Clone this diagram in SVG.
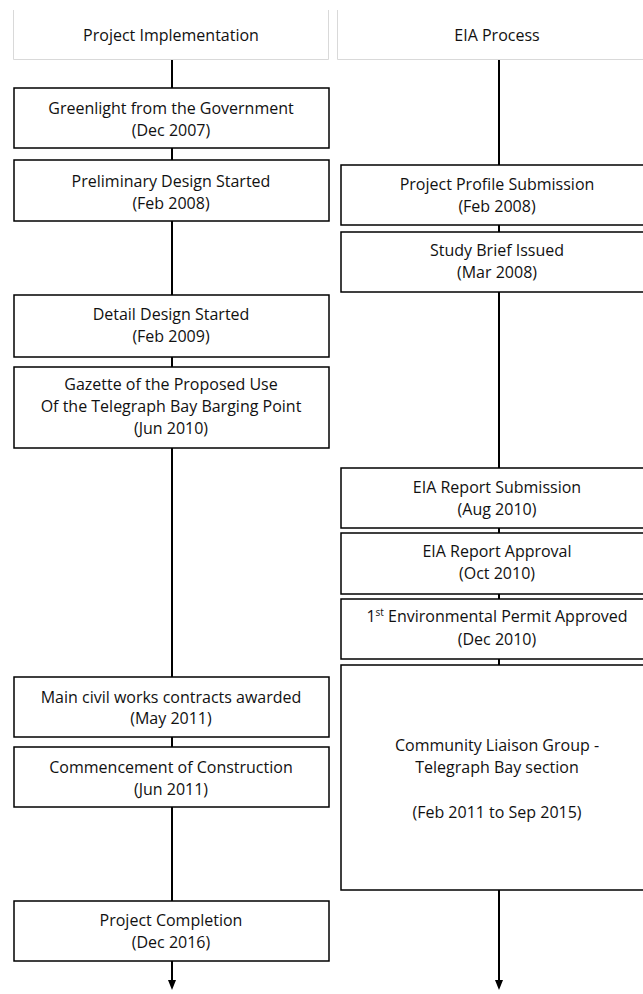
<svg xmlns="http://www.w3.org/2000/svg" width="643" height="994" viewBox="0 0 643 994">
<style>
.hdr{fill:#fff;stroke:#d9d9d9;stroke-width:1}
.box{fill:#fff;stroke:#000;stroke-width:1.5}
.t{font-family:"Open Sans","Liberation Sans",sans-serif;font-size:16px;fill:#111;text-anchor:middle}
.ln{stroke:#000;stroke-width:2;fill:none}
</style>
<defs>
<marker id="ah" markerWidth="10" markerHeight="10" refX="5" refY="5" orient="auto" markerUnits="userSpaceOnUse">
<path d="M0,1 L10,5 L0,9 z" fill="#000"/>
</marker>
</defs>
<rect width="643" height="994" fill="#fff"/>
<g id="connectors">
<line class="ln" x1="172" y1="59" x2="172" y2="985" marker-end="url(#ah)"/>
<line class="ln" x1="499" y1="59" x2="499" y2="985" marker-end="url(#ah)"/>
</g>
<g id="hdr-left">
<path class="hdr" d="M13.5,10 V59.5 H328.5 V10"/>
<text class="t" x="171" y="41">Project Implementation</text>
</g>
<g id="hdr-right">
<path class="hdr" d="M337.5,10 V59.5 H644"/>
<text class="t" x="497" y="41">EIA Process</text>
</g>
<g id="n-greenlight">
<rect class="box" x="14" y="88" width="315" height="60"/>
<text class="t" x="171" y="114">Greenlight from the Government</text>
<text class="t" x="171" y="136">(Dec 2007)</text>
</g>
<g id="n-prelim">
<rect class="box" x="14" y="160" width="315" height="61"/>
<text class="t" x="171" y="187">Preliminary Design Started</text>
<text class="t" x="171" y="209">(Feb 2008)</text>
</g>
<g id="n-detail">
<rect class="box" x="14" y="295" width="315" height="62"/>
<text class="t" x="171" y="320">Detail Design Started</text>
<text class="t" x="171" y="342">(Feb 2009)</text>
</g>
<g id="n-gazette">
<rect class="box" x="14" y="367" width="315" height="81"/>
<text class="t" x="171" y="390">Gazette of the Proposed Use</text>
<text class="t" x="171" y="412">Of the Telegraph Bay Barging Point</text>
<text class="t" x="171" y="434">(Jun 2010)</text>
</g>
<g id="n-civil">
<rect class="box" x="14" y="677" width="315" height="60"/>
<text class="t" x="171" y="703">Main civil works contracts awarded</text>
<text class="t" x="171" y="724">(May 2011)</text>
</g>
<g id="n-commence">
<rect class="box" x="14" y="747" width="315" height="60"/>
<text class="t" x="171" y="773">Commencement of Construction</text>
<text class="t" x="171" y="795">(Jun 2011)</text>
</g>
<g id="n-completion">
<rect class="box" x="14" y="901" width="315" height="60"/>
<text class="t" x="171" y="926">Project Completion</text>
<text class="t" x="171" y="948">(Dec 2016)</text>
</g>
<g id="n-profile">
<rect class="box" x="341" y="165" width="305" height="60"/>
<text class="t" x="497" y="190">Project Profile Submission</text>
<text class="t" x="497" y="212">(Feb 2008)</text>
</g>
<g id="n-brief">
<rect class="box" x="341" y="232" width="305" height="60"/>
<text class="t" x="497" y="256">Study Brief Issued</text>
<text class="t" x="497" y="278">(Mar 2008)</text>
</g>
<g id="n-eiasub">
<rect class="box" x="341" y="468" width="305" height="60"/>
<text class="t" x="497" y="493">EIA Report Submission</text>
<text class="t" x="497" y="515">(Aug 2010)</text>
</g>
<g id="n-eiaapp">
<rect class="box" x="341" y="533" width="305" height="61"/>
<text class="t" x="497" y="557">EIA Report Approval</text>
<text class="t" x="497" y="579">(Oct 2010)</text>
</g>
<g id="n-permit">
<rect class="box" x="341" y="599" width="305" height="60"/>
<text class="t" x="497" y="622">1<tspan font-size="10" dy="-6">st</tspan><tspan dy="6"> Environmental Permit Approved</tspan></text>
<text class="t" x="497" y="645">(Dec 2010)</text>
</g>
<g id="n-clg">
<rect class="box" x="341" y="665" width="305" height="225"/>
<text class="t" x="497" y="751">Community Liaison Group -</text>
<text class="t" x="497" y="773">Telegraph Bay section</text>
<text class="t" x="497" y="818">(Feb 2011 to Sep 2015)</text>
</g>
</svg>
